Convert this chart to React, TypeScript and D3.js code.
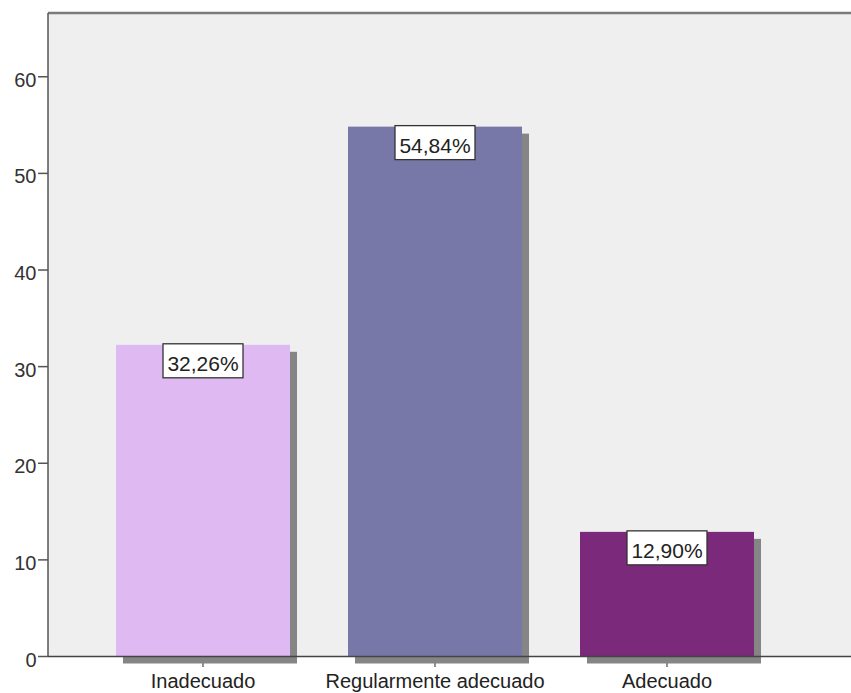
import React from "react";
import * as d3 from "d3";

const categories = ["Inadecuado", "Regularmente adecuado", "Adecuado"];
const values = [32.26, 54.84, 12.9];
const labels = ["32,26%", "54,84%", "12,90%"];
const colors = ["#dfb9f2", "#7878a8", "#7b2a7b"];
const yTicks = [0, 10, 20, 30, 40, 50, 60];

const W = 851;
const H = 693;
const left = 48;
const right = 851;
const top = 13;
const bottom = 656.5;
const font = "'Liberation Sans', Arial, sans-serif";

export default function App() {
  const y = d3.scaleLinear().domain([0, 66.6]).range([bottom, top]);
  const x = d3
    .scaleBand<string>()
    .domain(categories)
    .range([87, 783])
    .paddingInner(0.25)
    .paddingOuter(0.125);
  const bw = x.bandwidth();
  const sh = 7;
  return (
    <svg
      width={W}
      height={H}
      style={{ position: "absolute", left: 0, top: 0, display: "block", background: "#fff" }}
    >
      <rect x={left} y={top} width={right - left} height={bottom - top} fill="#efefef" />
      {categories.map((c) => (
        <line
          key={"t" + c}
          x1={(x(c) as number) + bw / 2}
          x2={(x(c) as number) + bw / 2}
          y1={bottom}
          y2={667}
          stroke="#444"
          strokeWidth={1.2}
        />
      ))}
      {categories.map((c, i) => (
        <rect
          key={"s" + c}
          x={(x(c) as number) + sh}
          y={y(values[i]) + sh}
          width={bw}
          height={bottom - y(values[i])}
          fill="#858585"
        />
      ))}
      {categories.map((c, i) => (
        <rect
          key={"b" + c}
          x={x(c) as number}
          y={y(values[i])}
          width={bw}
          height={bottom - y(values[i])}
          fill={colors[i]}
        />
      ))}
      <line x1={left} x2={right} y1={top} y2={top} stroke="#7a7a7a" strokeWidth={2.5} />
      <line x1={left} x2={left} y1={top} y2={bottom} stroke="#555" strokeWidth={1.5} />
      <line x1={left} x2={right} y1={bottom} y2={bottom} stroke="#444" strokeWidth={1.5} />
      {yTicks.map((t) => (
        <g key={"y" + t}>
          <line x1={38} x2={left} y1={y(t)} y2={y(t)} stroke="#555" strokeWidth={1.5} />
          <text
            x={36.5}
            y={y(t) + 10}
            textAnchor="end"
            fontFamily={font}
            fontSize={20}
            fill="#333"
          >
            {t}
          </text>
        </g>
      ))}
      {categories.map((c, i) => {
        const cx = (x(c) as number) + bw / 2;
        const ty = y(values[i]) - 1;
        return (
          <g key={"l" + c}>
            <rect
              x={cx - 40}
              y={ty}
              width={80}
              height={34}
              fill="#fff"
              stroke="#333"
              strokeWidth={1.3}
            />
            <text
              x={cx}
              y={ty + 27}
              textAnchor="middle"
              fontFamily={font}
              fontSize={21}
              fill="#222"
            >
              {labels[i]}
            </text>
            <text
              x={cx}
              y={688}
              textAnchor="middle"
              fontFamily={font}
              fontSize={20}
              fill="#222"
            >
              {c}
            </text>
          </g>
        );
      })}
    </svg>
  );
}
